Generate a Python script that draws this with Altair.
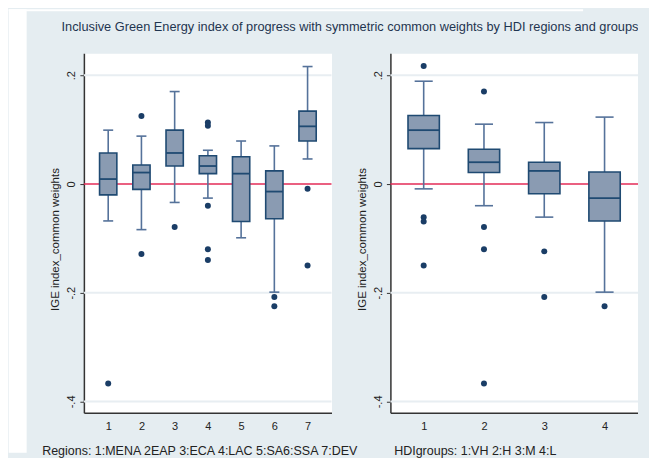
import altair as alt
import pandas as pd

# ---------------- data ----------------
title_text = "Inclusive Green Energy index of progress with symmetric common weights  by HDI regions and groups"
y_title = "IGE index_common weights"
y_ticks = [0.2, 0.0, -0.2, -0.4]
y_tick_labels = [".2", "0", "-.2", "-.4"]
grid_vals = [0.2, -0.2, -0.4]

# Panel 1: regions
reg_title = "Regions: 1:MENA 2EAP 3:ECA 4:LAC 5:SA6:SSA 7:DEV"
reg_pos = [1, 2, 3, 4, 5, 6, 7]
reg_wlo = [-0.068, -0.084, -0.034, -0.026, -0.099, -0.199, 0.046]
reg_q1 = [-0.020, -0.010, 0.033, 0.019, -0.069, -0.064, 0.079]
reg_med = [0.009, 0.021, 0.057, 0.033, 0.019, -0.014, 0.106]
reg_q3 = [0.057, 0.035, 0.099, 0.052, 0.050, 0.024, 0.134]
reg_whi = [0.099, 0.088, 0.170, 0.062, 0.079, 0.070, 0.216]
reg_out_pos = [1, 2, 2, 3, 4, 4, 4, 4, 4, 6, 6, 7, 7]
reg_out_val = [-0.367, 0.125, -0.129, -0.079, 0.113, 0.107, -0.040, -0.120, -0.140,
               -0.208, -0.225, -0.009, -0.150]

# Panel 2: HDI groups
hdi_title = "HDIgroups: 1:VH 2:H 3:M 4:L"
hdi_pos = [1, 2, 3, 4]
hdi_wlo = [-0.009, -0.040, -0.061, -0.199]
hdi_q1 = [0.065, 0.021, -0.018, -0.068]
hdi_med = [0.099, 0.040, 0.024, -0.026]
hdi_q3 = [0.126, 0.064, 0.040, 0.022]
hdi_whi = [0.189, 0.110, 0.113, 0.123]
hdi_out_pos = [1, 1, 1, 1, 2, 2, 2, 2, 3, 3, 4]
hdi_out_val = [0.217, -0.061, -0.069, -0.150, 0.170, -0.079, -0.120, -0.367,
               -0.124, -0.208, -0.225]

# ---------------- style ----------------
BG = "#e5edf1"
BOX_FILL = "#8a9bb2"
BOX_EDGE = "#1f4a72"
WHISK = "#55729a"
DOT = "#1a3d66"
RED = "#e32b57"
GRID = "#e8eef2"
AXIS = "#333333"
FONT = "Liberation Sans"
W, H = 248, 360
Y_DOMAIN = [-0.4208, 0.2404]
BOX_HALF = 0.26
CAP_HALF = 0.15

label_expr = ""
for v, lab in zip(y_ticks, y_tick_labels):
    label_expr += f"abs(datum.value - ({v})) < 1e-6 ? '{lab}' : "
label_expr += "''"


def y_enc(field):
    return alt.Y(
        field,
        type="quantitative",
        scale=alt.Scale(domain=Y_DOMAIN, nice=False, zero=False),
        axis=alt.Axis(
            values=y_ticks, labelExpr=label_expr, labelAngle=270,
            labelAlign="center", labelBaseline="alphabetic", labelFontSize=11,
            labelColor="#222222", labelPadding=5, tickSize=4, tickColor=AXIS,
            domainColor=AXIS, domainWidth=1.5, grid=False,
            title=y_title, titleAngle=270, titleX=-25, titleY=186,
            titleAlign="center", titleBaseline="alphabetic", titleFontSize=11.5,
            titleFontWeight="normal", titleColor="#222222",
        ),
    )


def panel(pos, wlo, q1, med, q3, whi, out_pos, out_val, xdomain, xtitle, title_x, left):
    stats = pd.DataFrame({"pos": pos, "wlo": wlo, "q1": q1, "med": med, "q3": q3, "whi": whi})
    outl = pd.DataFrame({"pos": out_pos, "val": out_val})
    grid = pd.DataFrame({"g": grid_vals})
    zero = pd.DataFrame({"z": [0.0]})
    one = pd.DataFrame({"t": [title_text]})

    xaxis = alt.Axis(
        values=pos, format="d", labelAngle=0, ticks=False, tickSize=0,
        labelPadding=8, labelFontSize=11, labelColor="#222222",
        domainColor=AXIS, domainWidth=1.5, grid=False,
        title=xtitle, titleAnchor="start", titleAlign="left", titleX=title_x,
        titleY=42, titleBaseline="alphabetic", titleFontSize=12.5,
        titleFontWeight="normal", titleColor="#222222",
    )
    xscale = alt.Scale(domain=xdomain, nice=False, zero=False)

    def X(field):
        return alt.X(field, type="quantitative", scale=xscale, axis=xaxis)

    base = alt.Chart(stats).transform_calculate(
        blo=f"datum.pos - {BOX_HALF}", bhi=f"datum.pos + {BOX_HALF}",
        clo=f"datum.pos - {CAP_HALF}", chi=f"datum.pos + {CAP_HALF}",
    )

    layers = []
    if left:
        # white strips outside the light-blue graph region
        layers.append(alt.Chart(one).mark_rect(color="white").encode(
            x=alt.value(-75.3), x2=alt.value(-57.3), y=alt.value(-44), y2=alt.value(400)))
        layers.append(alt.Chart(one).mark_rect(color="white").encode(
            x=alt.value(-75.3), x2=alt.value(500), y=alt.value(-44), y2=alt.value(-42)))
        layers.append(alt.Chart(one).mark_text(
            font=FONT, fontSize=12.8, color="#1f3550", align="center",
            baseline="alphabetic").encode(
            x=alt.value(266.5), y=alt.value(-22), text="t:N"))
    else:
        layers.append(alt.Chart(one).mark_rect(color=BG).encode(
            x=alt.value(248), x2=alt.value(258.3), y=alt.value(-44), y2=alt.value(396)))

    layers.append(alt.Chart(grid).mark_rule(color=GRID, strokeWidth=2).encode(
        y=y_enc("g"), x=alt.value(0), x2=alt.value(W)))
    layers.append(alt.Chart(zero).mark_rule(color=RED, strokeWidth=1.5).encode(
        y=y_enc("z"), x=alt.value(0), x2=alt.value(W)))
    # whiskers
    layers.append(base.mark_rule(color=WHISK, strokeWidth=1.6).encode(
        x=X("pos"), y=y_enc("q3"), y2="whi:Q"))
    layers.append(base.mark_rule(color=WHISK, strokeWidth=1.6).encode(
        x=X("pos"), y=y_enc("wlo"), y2="q1:Q"))
    layers.append(base.mark_rule(color=WHISK, strokeWidth=1.6).encode(
        x=X("clo:Q"), x2="chi:Q", y=y_enc("whi")))
    layers.append(base.mark_rule(color=WHISK, strokeWidth=1.6).encode(
        x=X("clo:Q"), x2="chi:Q", y=y_enc("wlo")))
    # boxes
    layers.append(base.mark_rect(fill=BOX_FILL, stroke=BOX_EDGE, strokeWidth=1.6).encode(
        x=X("blo:Q"), x2="bhi:Q", y=y_enc("q1"), y2="q3:Q"))
    layers.append(base.mark_rule(color=BOX_EDGE, strokeWidth=1.8).encode(
        x=X("blo:Q"), x2="bhi:Q", y=y_enc("med")))
    # outliers
    layers.append(alt.Chart(outl).mark_circle(color=DOT, size=36, opacity=1).encode(
        x=X("pos"), y=y_enc("val")))

    return alt.layer(*layers).properties(width=W, height=H)


left = panel(reg_pos, reg_wlo, reg_q1, reg_med, reg_q3, reg_whi, reg_out_pos, reg_out_val,
             [0.268, 7.72], reg_title, -42.3, True)
right = panel(hdi_pos, hdi_wlo, hdi_q1, hdi_med, hdi_q3, hdi_whi, hdi_out_pos, hdi_out_val,
              [0.448, 4.555], hdi_title, 3.3, False)

chart = alt.hconcat(left, right, spacing=59, bounds="flush").properties(
    padding=0, background=BG
).configure(font=FONT).configure_view(fill="white", stroke="transparent")

chart.save("out.html", embed_options={"renderer": "svg", "actions": False})
